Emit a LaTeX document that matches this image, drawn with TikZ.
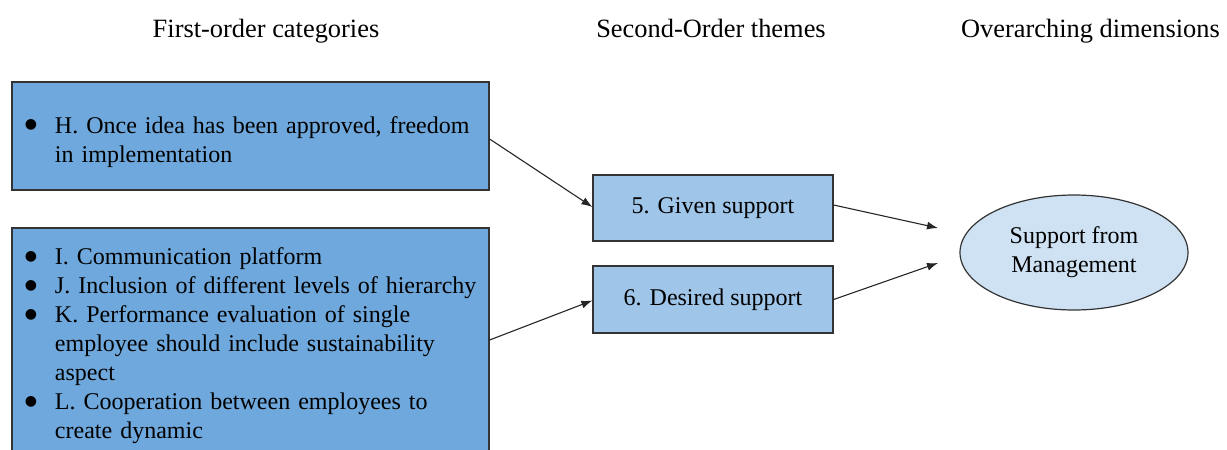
\documentclass[tikz,border=0pt]{standalone}
\usepackage{fontspec}
\setmainfont{Liberation Serif}
\newfontfamily\symfont{DejaVu Sans}
\usepackage{enumitem}
\usetikzlibrary{shapes.geometric,arrows.meta}
\definecolor{catBlue}{RGB}{111,168,220}
\definecolor{themeBlue}{RGB}{159,197,232}
\definecolor{dimBlue}{RGB}{207,226,243}
\definecolor{edgeGray}{RGB}{51,51,51}
\newcommand{\bigdot}{\raisebox{2.3pt}{\symfont\fontsize{7}{7}\selectfont ●}}
\tikzset{
  catbox/.style={draw=edgeGray, fill=catBlue, line width=0.6pt, rectangle, inner sep=0pt,
    minimum width=238.5pt, text width=226pt, align=left},
  themebox/.style={draw=edgeGray, fill=themeBlue, line width=0.6pt, rectangle, inner sep=0pt,
    minimum width=120pt},
  dimnode/.style={draw=edgeGray, fill=dimBlue, line width=0.6pt, ellipse, inner sep=0pt,
    minimum width=114pt, minimum height=57.5pt, align=center},
  coltitle/.style={anchor=base, font=\fontsize{13.2}{15}\selectfont},
  link/.style={-{Latex[length=5.5pt,width=4pt]}, line width=0.55pt, black!85}
}
\setlist[itemize]{nosep, leftmargin=15.25pt, labelsep=9pt, label=\bigdot}

\begin{document}
\begin{tikzpicture}[x=0.5pt, y=-0.5pt, font=\fontsize{12}{14.5}\selectfont]
    \useasboundingbox (0,0) rectangle (1227,450);
    % column titles
    \node[coltitle] (t1) at (266,37.5) {First-order categories};
    \node[coltitle] (t2) at (711,37.5) {Second-Order themes};
    \node[coltitle, anchor=base west] (t3) at (954,37.5) {Overarching dimensions};
    % first-order categories
    \node[catbox, minimum height=54pt] (catH) at (250.5,136) {\raggedright
      \begin{itemize}
        \item H. Once idea has been approved, freedom in implementation
      \end{itemize}};
    \node[catbox, minimum height=112pt] (catIL) at (250.5,340) {\raggedright
      \begin{itemize}
        \item I. Communication platform
        \item J. Inclusion of different levels of hierarchy
        \item K. Performance evaluation of single employee should include sustainability aspect
        \item L. Cooperation between employees to create dynamic
      \end{itemize}};
    % second-order themes
    \node[themebox, minimum height=33pt] (given) at (713,208) {5. Given support};
    \node[themebox, minimum height=33.5pt] (desired) at (713,299.5) {6. Desired support};
    % overarching dimension
    \node[dimnode] (mgmt) at (1074,252.5) {Support from\\Management};
    \coordinate (inA) at (938,228);
    \coordinate (inB) at (938,263);
    % links
    \draw[link] ([yshift=-1.5pt]catH.east) -- ([yshift=0.5pt]given.west);
    \draw[link] (catIL.east) -- ([yshift=-0.5pt]desired.west);
    \draw[link] ([yshift=1.5pt]given.east) -- (inA);
    \draw[link] (desired.east) -- (inB);
\end{tikzpicture}
\end{document}
